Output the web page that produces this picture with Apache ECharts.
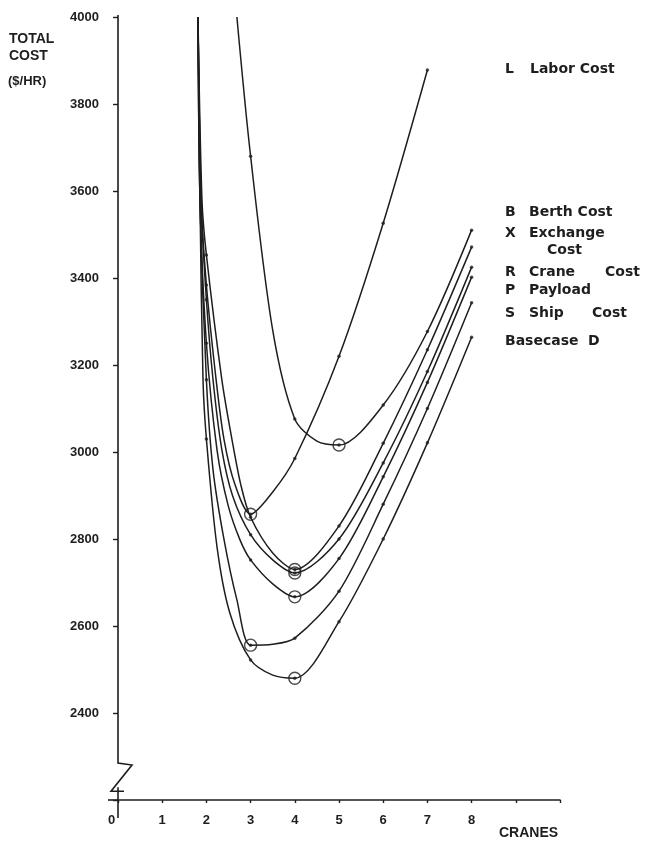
<!DOCTYPE html>
<html><head><meta charset="utf-8">
<script src="https://cdn.jsdelivr.net/npm/echarts@6/dist/echarts.min.js"></script>
<style>html,body{margin:0;padding:0;background:#fff}#c{width:650px;height:841px}</style>
</head><body><div id="c"></div>
<script>
// ---- data (cranes, total cost $/hr) ----
const laborL    = [[1.81,4000],[1.88,3579],[2,3384],[2.22,3166],[2.4,3028],[2.65,2924],[3,2857],[3.5,2908],[4,2985],[5,3220],[6,3526],[7,3878]];
const berthB    = [[2.69,4000],[3,3680],[3.5,3280],[4,3076],[4.5,3025],[5,3016],[6,3108],[7,3277],[8,3510]];
const exchangeX = [[1.81,4000],[1.9,3579],[2,3453],[2.35,3166],[2.58,3028],[2.78,2924],[3,2850],[3.5,2768],[4,2730],[5,2830],[6,3020],[7,3235],[8,3471]];
const craneR    = [[1.81,4000],[1.88,3579],[2,3350],[2.15,3166],[2.35,3005],[2.6,2897],[3,2810],[3.5,2752],[4,2722],[5,2800],[6,2975],[7,3185],[8,3425]];
const payloadP  = [[1.81,4000],[1.855,3579],[2,3250],[2.24,3005],[2.49,2878],[2.76,2798],[3,2752],[3.5,2697],[4,2667],[5,2755],[6,2943],[7,3160],[8,3402]];
const shipS     = [[1.81,4000],[1.855,3579],[2,3166],[2.15,2959],[2.4,2798],[2.69,2660],[3,2556],[3.5,2558],[4,2572],[5,2680],[6,2880],[7,3100],[8,3343]];
const basecaseD = [[1.81,4000],[1.855,3579],[1.923,3166],[2,3030],[2.24,2782],[2.53,2630],[3,2522],[3.5,2487],[4,2480],[5,2610],[6,2800],[7,3021],[8,3264]];

const curveKeys = ['L','B','X','R','P','S','D'];
const curves = [laborL, berthB, exchangeX, craneR, payloadP, shipS, basecaseD];

const yTicks = [4000,3800,3600,3400,3200,3000,2800,2600,2400];
const xTickLabels = ['0','1','2','3','4','5','6','7','8'];

// legend text: key letter and words of each row
const legendRows = [
  {key:'L', words:['Labor Cost']},
  {key:'B', words:['Berth Cost']},
  {key:'X', words:['Exchange']},
  {key:'',  words:['Cost']},
  {key:'R', words:['Crane', 'Cost']},
  {key:'P', words:['Payload']},
  {key:'S', words:['Ship', 'Cost']},
  {key:'',  words:['Basecase', 'D']}
];

const INK = '#1e1e1e';
const FONT = '"Liberation Sans", Arial, sans-serif';
const LFONT = '"DejaVu Sans", "Liberation Sans", sans-serif';

const chart = echarts.init(document.getElementById('c'), null, {renderer:'canvas'});

const series = [];
curves.forEach((pts, i) => {
  series.push({
    type:'line', name: curveKeys[i], data: pts, smooth: 0.3,
    showSymbol:false, clip:true, z:2,
    lineStyle:{color:INK, width:1.5}
  });
});
// small dots at integer crane counts
const dots = [];
curves.forEach(pts => pts.forEach(p => { if (Number.isInteger(p[0])) dots.push(p); }));
series.push({type:'scatter', data:dots, symbol:'circle', symbolSize:3.5, z:3,
  itemStyle:{color:INK}});
// circled minimum of each curve
const minima = curves.map(pts => {
  const ints = pts.filter(p => Number.isInteger(p[0]));
  return ints.reduce((a,b) => b[1] < a[1] ? b : a);
});
series.push({type:'scatter', data:minima, symbol:'circle', symbolSize:12, z:4,
  itemStyle:{color:'rgba(0,0,0,0)', borderColor:INK, borderWidth:1.4}});

chart.setOption({
  animation:false,
  backgroundColor:'#fff',
  grid:{left:118, right:90, top:17, bottom:41, containLabel:false},
  xAxis:{type:'value', min:0, max:10, interval:1,
    axisLine:{show:true, lineStyle:{color:INK, width:1.6}},
    axisTick:{show:true, length:3, inside:false, lineStyle:{color:INK, width:1.4}},
    splitLine:{show:false},
    axisLabel:{margin:14, color:INK, fontFamily:FONT, fontWeight:'bold', fontSize:13,
      formatter: v => (v === 0 ? xTickLabels[0] + '\u2003' : (v < xTickLabels.length ? xTickLabels[v] : ''))}
  },
  yAxis:{type:'value', min:2200, max:4000, interval:200,
    axisLine:{show:false},
    axisTick:{show:true, length:5, lineStyle:{color:INK, width:1.4}},
    splitLine:{show:false},
    axisLabel:{margin:19, color:INK, fontFamily:FONT, fontWeight:'bold', fontSize:13,
      formatter: v => (yTicks.indexOf(v) >= 0 ? String(v) : '')}
  },
  series: series
});

// axis line with the scale break, placed through the chart's own scales
const toPx = (x,y) => chart.convertToPixel({gridIndex:0}, [x,y]);
const pTop = toPx(0,4000), pBottom = toPx(0,2200);
const ax = pTop[0];
const breakTop = toPx(0,2285)[1];
const breakBot = toPx(0,2220)[1];
const gr = [];
gr.push({type:'polyline', z:10, shape:{points:[
    [ax, pTop[1]-2], [ax, breakTop], [ax+14, breakTop+2], [ax-7, breakBot], [ax+6, breakBot]
  ]}, style:{stroke:INK, lineWidth:1.6, fill:null}});
gr.push({type:'line', z:10, shape:{x1:ax, y1:breakBot-4, x2:ax, y2:pBottom[1]+18},
  style:{stroke:INK, lineWidth:1.6}});
gr.push({type:'line', z:10, shape:{x1:ax-10, y1:pBottom[1], x2:ax, y2:pBottom[1]},
  style:{stroke:INK, lineWidth:1.6}});

const txt = (t, x, y, size, fam) => ({type:'text', z:11, x:x, y:y,
  style:{text:t, fill:INK, font:'bold '+size+'px '+(fam||FONT), textAlign:'left', textVerticalAlign:'middle'}});
gr.push(txt('TOTAL', 9, 39, 14));
gr.push(txt('COST', 9, 56, 14));
gr.push(txt('($/HR)', 8, 81, 13));
gr.push(txt('CRANES', 499, 833, 14));

const legY = [69, 212, 233, 250, 272, 290, 313, 341];
const wordX = [[530], [529], [529], [547], [529, 605], [529], [529, 592], [505, 588]];
legendRows.forEach((row, i) => {
  if (row.key) gr.push(txt(row.key, 505, legY[i], 14, LFONT));
  row.words.forEach((w, j) => gr.push(txt(w, wordX[i][j], legY[i], 14, LFONT)));
});
chart.setOption({graphic: gr});
</script></body></html>
